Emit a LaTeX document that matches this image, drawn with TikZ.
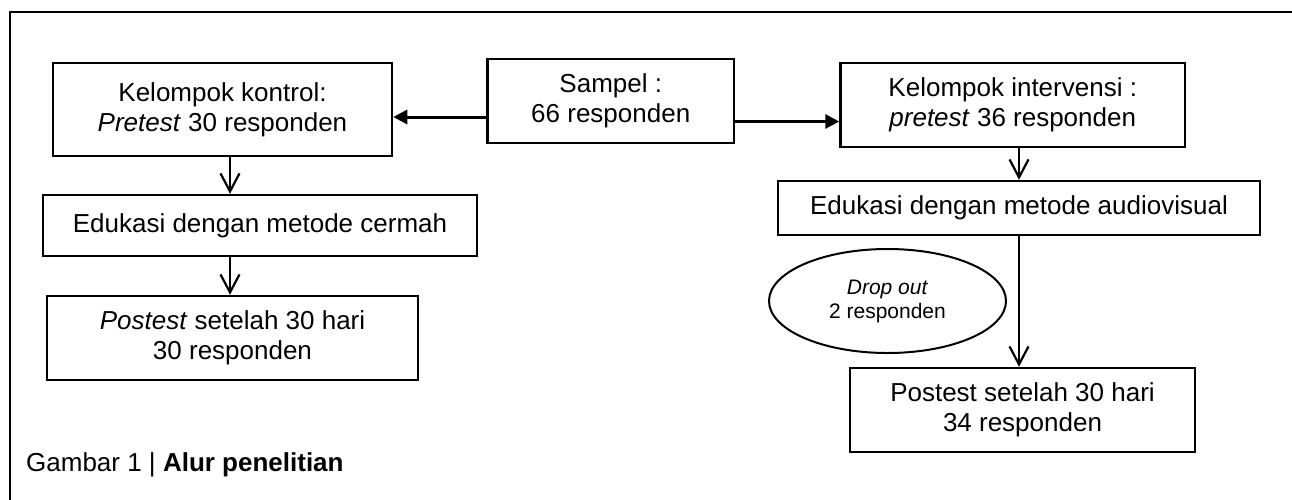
\documentclass[tikz,border=0pt]{standalone}
\usepackage{fontspec}
\setmainfont{Liberation Sans}
\usepackage{tikz}
\usetikzlibrary{
    positioning,
    arrows.meta,
    calc,
    shapes.geometric
}

\begin{document}
\begin{tikzpicture}[x=1pt, y=-1pt,
        box/.style={draw, line width=2.5pt, inner sep=0pt, align=center,
            font=\fontsize{26}{30}\selectfont},
        hline/.style={line width=3pt, -{Triangle[length=14pt, width=14pt]}},
        vline/.style={line width=2.2pt, -{Straight Barb[length=18pt, width=19pt]}}]
        \useasboundingbox (0,0) rectangle (1292,499);
        % Frame
        \draw[line width=2pt] (10,520) -- (10,12) -- (1310,12);

        % Sample
        \node[box, minimum width=246.5pt, minimum height=84pt] (sampel) at (610.75,101)
            {Sampel :\\66 responden};

        % Control group
        \node[box, minimum width=339pt, minimum height=93pt] (kontrol) at (222.5,109.5)
            {Kelompok kontrol:\\\textit{Pretest} 30 responden};
        \node[box, minimum width=434pt, minimum height=61pt] (ceramah) at (260,225.5)
            {Edukasi dengan metode cermah};
        \node[box, minimum width=371pt, minimum height=84pt] (postkontrol) at (232.5,338)
            {\textit{Postest} setelah 30 hari\\30 responden};

        % Intervention group
        \node[box, minimum width=344.5pt, minimum height=84pt] (intervensi) at (1012.75,105)
            {Kelompok intervensi :\\\textit{pretest} 36 responden};
        \node[box, minimum width=482pt, minimum height=54pt] (audiovisual) at (1019,208)
            {Edukasi dengan metode audiovisual};
        \node[box, minimum width=345pt, minimum height=84pt] (postintervensi) at (1022.5,410)
            {Postest setelah 30 hari\\34 responden};
        \node[box, ellipse, line width=2pt, minimum width=237pt, minimum height=104pt,
            font=\fontsize{21}{24}\selectfont] (dropout) at (887.5,301)
            {\textit{Drop out}\\2 responden};

        % Caption
        \node[anchor=base west, inner sep=0pt, font=\fontsize{26}{30}\selectfont] (judul) at (26,471)
            {Gambar 1 | \textbf{Alur penelitian}};

        % Arrows
        \draw[hline] ([yshift=-16pt]sampel.west) -- ([yshift=-16pt]sampel.west -| kontrol.east);
        \draw[hline] ([yshift=-20.5pt]sampel.east) -- ([yshift=-20.5pt]sampel.east -| intervensi.west);
        \draw[vline] (kontrol.south -| 230,0) -- (ceramah.north -| 230,0);
        \draw[vline] (ceramah.south -| 230,0) -- (postkontrol.north -| 230,0);
        \draw[vline] (intervensi.south -| audiovisual.north) -- (audiovisual.north);
        \draw[vline] (audiovisual.south) -- (audiovisual.south |- postintervensi.north);
    \end{tikzpicture}
\end{document}
